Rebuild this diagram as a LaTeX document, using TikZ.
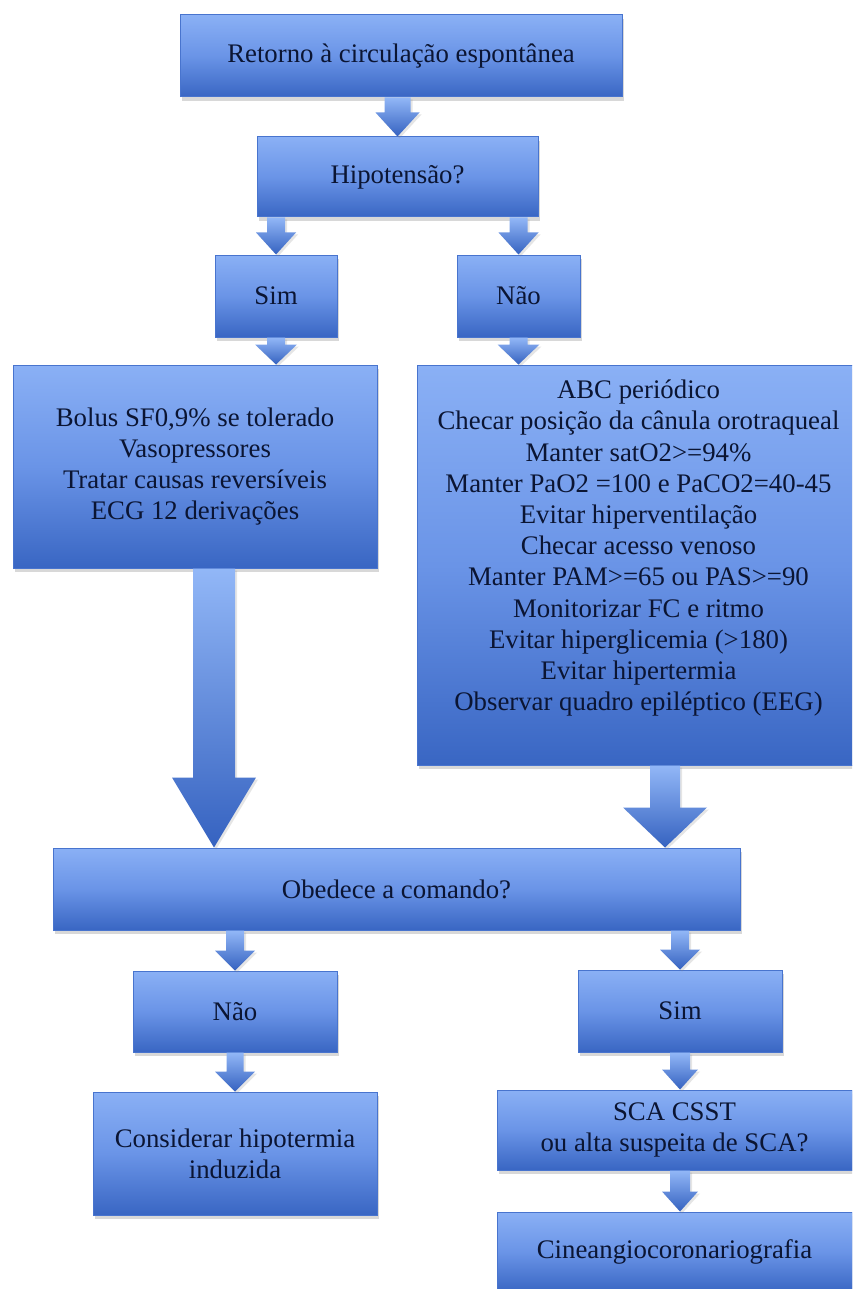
\documentclass[tikz,border=0pt]{standalone}
\usepackage{fontspec}
\setmainfont{Liberation Serif}
\usetikzlibrary{calc,shadows}

\definecolor{topo}{HTML}{8AB0F5}
\definecolor{meio}{HTML}{6A94E7}
\definecolor{fundo}{HTML}{3966C3}
\definecolor{borda}{HTML}{4874CE}
\definecolor{letra}{HTML}{0B1533}
\definecolor{setatopo}{HTML}{92B7F7}
\definecolor{setafundo}{HTML}{3562C0}

% seta larga: {inicio}{ponta}{meia haste}{meia cabeca}{comprimento da cabeca}
\newcommand{\seta}[5]{%
	\path[setafill] ($(#1)+(-#3,0)$) -- ($(#1)+(#3,0)$) -- ($(#2)+(#3,-#5)$) -- ($(#2)+(#4,-#5)$)
		-- (#2) -- ($(#2)+(-#4,-#5)$) -- ($(#2)+(-#3,-#5)$) -- cycle;}

\begin{document}
\begin{tikzpicture}[x=0.5pt, y=-0.5pt,
	caixa/.style={rectangle, draw=borda, line width=0.5pt, top color=topo, bottom color=fundo, middle color=meio,
		text=letra, align=center, inner sep=0pt, font=\fontsize{13.4}{15.6}\selectfont,
		drop shadow={shadow xshift=1.2pt, shadow yshift=-1.8pt, opacity=0.3}},
	tam/.style 2 args={minimum width=#1*0.5pt, minimum height=#2*0.5pt},
	setafill/.style={top color=setatopo, bottom color=setafundo,
		drop shadow={shadow xshift=1pt, shadow yshift=-1pt, opacity=0.2}}]
	\useasboundingbox (0,0) rectangle (852,1289);
	\fill[white] (0,0) rectangle (852,1289);
	\clip (0,0) rectangle (852,1289);

	\node[caixa, tam={442}{82}] (retorno) at (401,56) {Retorno à circulação espontânea};
	\node[caixa, tam={281}{80}] (hipo) at (397.5,177) {Hipotensão?};
	\node[caixa, tam={122}{82}] (sim1) at (276,296) {Sim};
	\node[caixa, tam={123}{82}] (nao1) at (518.5,296) {Não};
	\node[caixa, tam={364}{203}] (bolus) at (195,466.5)
		{Bolus SF0,9\% se tolerado\\Vasopressores\\Tratar causas reversíveis\\ECG 12 derivações};
	\node[caixa, tam={443}{400}] (abc) at (638.5,565)
		{ABC periódico\\Checar posição da cânula orotraqueal\\Manter satO2>=94\%\\Manter PaO2 =100 e PaCO2=40-45\\
		Evitar hiperventilação\\Checar acesso venoso\\Manter PAM>=65 ou PAS>=90\\Monitorizar FC e ritmo\\
		Evitar hiperglicemia (>180)\\Evitar hipertermia\\Observar quadro epiléptico (EEG)\\[4pt]\mbox{}};
	\node[caixa, tam={687}{82}] (obed) at (396.5,889) {Obedece a comando?};
	\node[caixa, tam={204}{81}] (nao2) at (235,1011.5) {Não};
	\node[caixa, tam={204}{82}] (sim2) at (680,1011) {Sim};
	\node[caixa, tam={284}{123}] (cons) at (235,1153.5) {Considerar hipotermia\\induzida};
	\node[caixa, tam={355}{80}] (sca) at (674.5,1130) {SCA CSST\\ou alta suspeita de SCA?};
	\node[caixa, tam={355}{80}] (cine) at (674.5,1252) {Cineangiocoronariografia};

	\coordinate (bx) at ([xshift=9.5pt]bolus.south);
	\coordinate (ax) at ([xshift=13.25pt]abc.south);

	\seta{hipo.north |- retorno.south}{hipo.north}{13}{22}{24}
	\seta{sim1.north |- hipo.south}{sim1.north}{9}{20}{22}
	\seta{nao1.north |- hipo.south}{nao1.north}{9}{20}{22}
	\seta{sim1.south}{sim1.south |- bolus.north}{9}{21}{20}
	\seta{nao1.south}{nao1.south |- abc.north}{9}{21}{20}
	\seta{bx}{bx |- obed.north}{21}{42}{70}
	\seta{ax}{ax |- obed.north}{15}{42}{40}
	\seta{nao2.north |- obed.south}{nao2.north}{9}{20}{20}
	\seta{sim2.north |- obed.south}{sim2.north}{9}{20}{20}
	\seta{nao2.south}{nao2.south |- cons.north}{8.5}{20}{20}
	\seta{sim2.south}{sim2.south |- sca.north}{10}{18}{20}
	\seta{sim2.south |- sca.south}{sim2.south |- cine.north}{10}{18}{20}
\end{tikzpicture}
\end{document}
